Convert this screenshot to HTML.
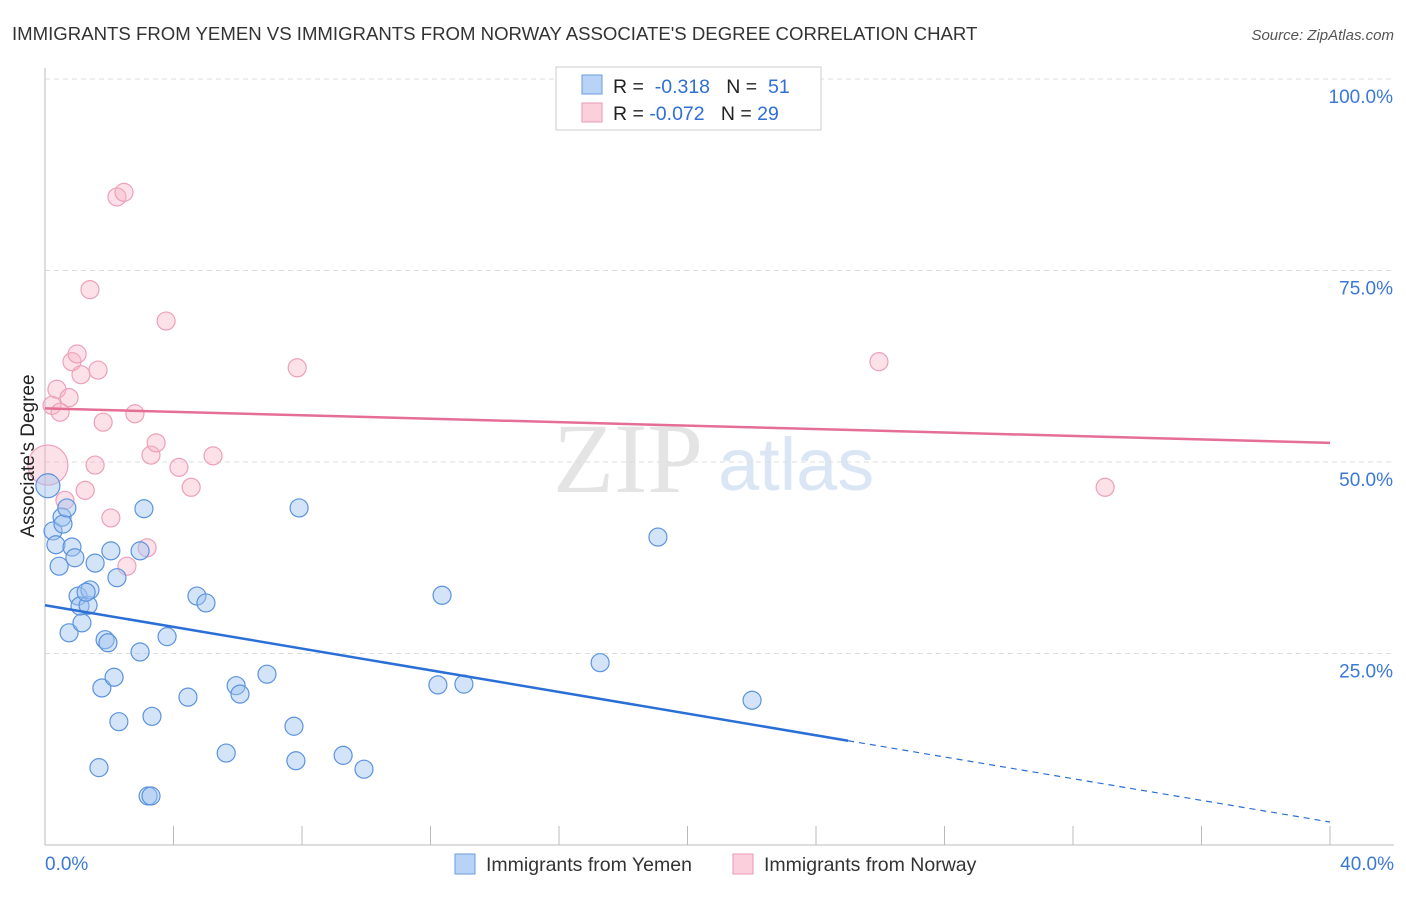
<!DOCTYPE html>
<html><head><meta charset="utf-8"><style>
body{margin:0;background:#fff;font-family:"Liberation Sans",sans-serif}
</style></head><body>
<svg id="c" width="1406" height="892" xmlns="http://www.w3.org/2000/svg" font-family="Liberation Sans, sans-serif">
<text x="12" y="40" font-size="18.6" fill="#333">IMMIGRANTS FROM YEMEN VS IMMIGRANTS FROM NORWAY ASSOCIATE'S DEGREE CORRELATION CHART</text>
<text x="1394" y="40" font-size="15" fill="#555" font-style="italic" text-anchor="end">Source: ZipAtlas.com</text>
<text x="553" y="492" font-size="100" fill="#e4e4e4" font-family="Liberation Serif, serif">ZIP</text>
<text x="718" y="490" font-size="74" fill="#dbe6f5">atlas</text>
<g id="grid"></g>
<g id="pts"></g>
<g id="lines"></g>
<text transform="translate(34,456) rotate(-90)" font-size="19" fill="#222" text-anchor="middle">Associate's Degree</text>
<g>
<rect x="556" y="67" width="265" height="63" fill="#fff" stroke="#ccc"/>
<rect x="582" y="75" width="20" height="19" fill="#b8d3f5" stroke="#6b9de0"/>
<rect x="582" y="103" width="20" height="19" fill="#fbcfdc" stroke="#eb9ab5"/>
<text x="613" y="93" font-size="19.5" fill="#222" xml:space="preserve">R =  <tspan fill="#2f6fd6">-0.318</tspan>   N =  <tspan fill="#2f6fd6">51</tspan></text>
<text x="613" y="120" font-size="19.5" fill="#222" xml:space="preserve">R = <tspan fill="#2f6fd6">-0.072</tspan>   N = <tspan fill="#2f6fd6">29</tspan></text>
</g>
<g>
<rect x="455" y="854" width="20" height="20" fill="#b8d3f5" stroke="#6b9de0"/>
<text x="486" y="871" font-size="19.5" fill="#333">Immigrants from Yemen</text>
<rect x="733" y="854" width="20" height="20" fill="#fbcfdc" stroke="#eb9ab5"/>
<text x="764" y="871" font-size="19.5" fill="#333">Immigrants from Norway</text>
</g>
</svg>
<script>
const blueX=[0.09,0.25,0.34,0.44,0.53,0.56,0.68,0.75,0.84,0.93,1.03,1.15,1.09,1.34,1.40,1.56,1.68,1.77,1.87,1.96,2.05,2.15,2.24,2.30,2.96,2.96,3.08,3.21,3.30,3.33,3.80,4.45,4.73,5.01,5.64,5.95,6.07,6.91,7.75,7.81,7.91,9.28,9.93,12.23,12.36,13.04,17.28,19.08,22.01,1.28];
const blueY=[46.9,41.0,39.2,36.4,42.8,41.9,44.0,27.7,38.9,37.5,32.5,29.0,31.2,31.3,33.3,36.8,10.1,20.5,26.8,26.4,38.4,21.9,34.9,16.1,38.4,25.2,43.9,6.4,6.4,16.8,27.2,19.3,32.5,31.6,12.0,20.8,19.7,22.3,15.5,11.0,44.0,11.7,9.9,20.9,32.6,21.0,23.8,40.2,18.9,33.0];
const pinkX=[0.09,0.22,0.37,0.47,0.62,0.75,0.84,1.0,1.12,1.25,1.40,1.56,1.65,1.81,2.05,2.24,2.46,2.55,2.80,3.18,3.30,3.46,3.77,4.17,4.55,5.23,7.85,25.96,33.0];
const pinkY=[49.6,57.4,59.5,56.5,45.0,58.4,63.1,64.1,61.4,46.3,72.5,49.6,62.0,55.2,42.7,84.6,85.2,36.4,56.3,38.8,50.9,52.5,68.4,49.3,46.7,50.8,62.3,63.1,46.7];
const blueTrend=[31.3,3.0]; const blueSolidEnd=25.0;
const pinkTrend=[57.0,52.5];
const yTicks=[100,75,50,25]; const yTickLabels=["100.0%","75.0%","50.0%","25.0%"];
const xTicks=[0,4,8,12,16,20,24,28,32,36,40];
const NS="http://www.w3.org/2000/svg";
const X=v=>45+v/40*1285, Y=v=>845-v/100*766;
function mk(t,a,p){const e=document.createElementNS(NS,t);for(const k in a)e.setAttribute(k,a[k]);p.appendChild(e);return e;}
const g=document.getElementById('grid');
yTicks.forEach((t,i)=>{
 const l=mk('line',{x1:45,x2:1394,y1:Y(t),y2:Y(t),stroke:'#ddd','stroke-dasharray':'5,4'},g);
 
 
 const tx=mk('text',{x:1393,y:Y(t)+24,'font-size':19,fill:'#3b78d8','text-anchor':'end'},g);
 tx.textContent=yTickLabels[i];
 
 
});
const ax=mk('line',{x1:45,x2:45,y1:68,y2:845,stroke:'#bbb'},g);


const bx=mk('line',{x1:45,x2:1394,y1:845,y2:845,stroke:'#bbb'},g);


xTicks.forEach(t=>{const l=mk('line',{x1:X(t),x2:X(t),y1:826,y2:845,stroke:'#bbb'},g);
 
 });
[[0,"0.0%",'start',45],[40,"40.0%",'end',1394]].forEach(d=>{const t=mk('text',{x:d[3],y:870,'font-size':19,fill:'#3b78d8','text-anchor':d[2]},g);t.textContent=d[1];
 
 });
const p=document.getElementById('pts');
pinkX.forEach((x,i)=>{const c=mk('circle',{cx:X(x),cy:Y(pinkY[i]),r:i==0?20:9,fill:'rgba(248,180,200,0.4)',stroke:'#eda0ba','stroke-width':1.2},p);
 
 });
blueX.forEach((x,i)=>{const c=mk('circle',{cx:X(x),cy:Y(blueY[i]),r:i==0?12:9,fill:'rgba(160,195,240,0.45)',stroke:'#5b93de','stroke-width':1.2},p);
 
 });
const L=document.getElementById('lines');
const by=x=>blueTrend[0]+(blueTrend[1]-blueTrend[0])*x/40;
const l1=mk('line',{x1:X(0),y1:Y(by(0)),x2:X(blueSolidEnd),y2:Y(by(blueSolidEnd)),stroke:'#2a6fd6','stroke-width':2.5},L);


const l2=mk('line',{x1:X(blueSolidEnd),y1:Y(by(blueSolidEnd)),x2:X(40),y2:Y(by(40)),stroke:'#2a6fd6','stroke-width':1.2,'stroke-dasharray':'6,5'},L);


const l3=mk('line',{x1:X(0),y1:Y(pinkTrend[0]),x2:X(40),y2:Y(pinkTrend[1]),stroke:'#e56e95','stroke-width':2.5},L);


</script>
</body></html>
